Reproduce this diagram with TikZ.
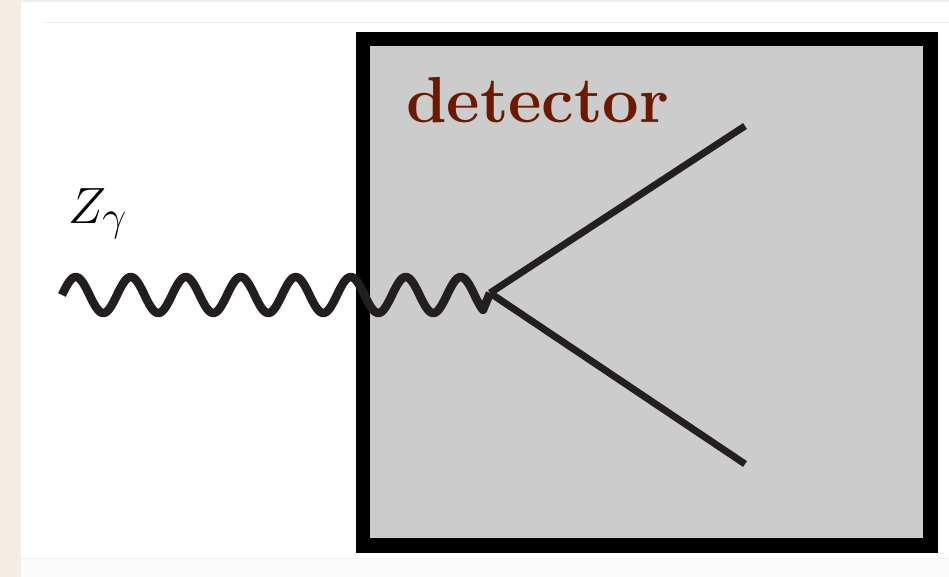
\documentclass[tikz,border=0pt]{standalone}
\usepackage{graphicx}
\definecolor{paper}{HTML}{F2EEE6}
\definecolor{boxgray}{HTML}{CCCCCC}
\definecolor{ink}{HTML}{231F20}
\definecolor{labelred}{HTML}{6B1A00}
\definecolor{faint}{HTML}{EEEEEE}
\definecolor{lowgray}{HTML}{FAFAFA}
\tikzset{
  detbox/.style={line width=14.5pt, draw=black, fill=boxgray},
  photon/.style={line width=8.5pt, draw=ink, line join=round},
  track/.style={line width=7pt, draw=ink},
  lbl/.style={inner sep=0pt, anchor=base west}
}
\begin{document}
\begin{tikzpicture}[x=1pt,y=-1pt]
\useasboundingbox (0,0) rectangle (949,577);
% page background
\fill[paper] (0,0) rectangle (949,577);
\fill[white] (21,2) rectangle (949,577);
\fill[lowgray] (21,558) rectangle (949,577);
\draw[faint, line width=1pt] (43,23) -- (949,23);
\draw[faint, line width=1pt] (21,558) -- (949,558);
% detector box
\draw[detbox] (363,39) rectangle (930.5,545.5);
\node[lbl, text=labelred, font=\fontsize{65}{65}\selectfont\bfseries] (det) at (406,123) {detector};
% label
\node[lbl] (zg) at (68,223) {\scalebox{2.05}{\fontsize{24.88}{26}\selectfont $Z_\gamma$}};
% coordinates
\coordinate (w0) at (62,295);
\coordinate (v) at (490,293);
\coordinate (e1) at (745,126);
\coordinate (e2) at (745,464);
% photon
\draw[photon] plot[domain=0:421, samples=300, smooth] ({62+\x},{295-18*sin(\x*6.54545)}) -- (v);
% tracks
\draw[track] (v) -- (e1);
\draw[track] (v) -- (e2);
\end{tikzpicture}
\end{document}
